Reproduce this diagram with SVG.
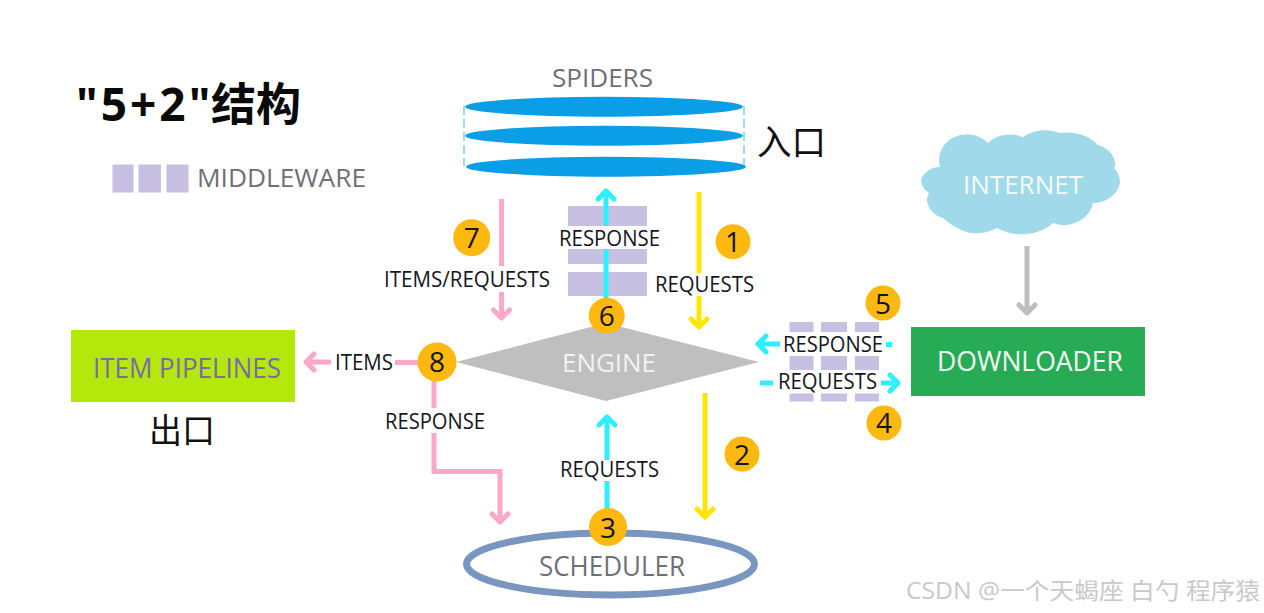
<svg xmlns="http://www.w3.org/2000/svg" width="1264" height="613" viewBox="0 0 1264 613">
<style>
text{font-family:"Open Sans","Noto Sans CJK SC",sans-serif}
.lbl{font-size:21px;fill:#15151c}
.gray{fill:#6f6f78}
.wht{fill:#f4fbf6}
.mw{fill:#c8c0e2}
.blue{fill:#0a9ee6}
.badge{fill:#fdb90f}
.num{font-size:28px;fill:#15151c;text-anchor:middle}
.con{fill:none;stroke-width:5}
.cy{stroke:#2eeeff}.ye{stroke:#ffe600}.pk{stroke:#ffa6c9}.gr{stroke:#bdbdbd}
.head{fill:none;stroke-width:5;stroke-linecap:round;stroke-linejoin:round}
</style>
<defs>
<marker id="hc" markerUnits="userSpaceOnUse" markerWidth="24" markerHeight="24" refX="10" refY="12" orient="auto" overflow="visible"><path class="head cy" d="M6 4L14 12L6 20"/></marker>
<marker id="hy" markerUnits="userSpaceOnUse" markerWidth="24" markerHeight="24" refX="10" refY="12" orient="auto" overflow="visible"><path class="head ye" d="M6 4L14 12L6 20"/></marker>
<marker id="hp" markerUnits="userSpaceOnUse" markerWidth="24" markerHeight="24" refX="10" refY="12" orient="auto" overflow="visible"><path class="head pk" d="M6 4L14 12L6 20"/></marker>
<marker id="hg" markerUnits="userSpaceOnUse" markerWidth="24" markerHeight="24" refX="10" refY="12" orient="auto" overflow="visible"><path class="head gr" d="M6 4L14 12L6 20"/></marker>
</defs>
<rect width="1264" height="613" fill="#fff"/>

<g id="title"><text x="76" y="121" font-size="46" font-weight="700" fill="#0a0a0a"><tspan letter-spacing="3">"5+2"</tspan><tspan x="211" font-size="45">结构</tspan></text></g>

<g id="legend">
<rect class="mw" x="112.500" y="164.500" width="21" height="28"/>
<rect class="mw" x="138.500" y="164.500" width="22.500" height="28"/>
<rect class="mw" x="166.500" y="164.500" width="22" height="28"/>
<text class="gray" x="197" y="187" font-size="26" textLength="169" lengthAdjust="spacingAndGlyphs">MIDDLEWARE</text>
</g>

<g id="spiders">
<text class="gray" x="552" y="87" font-size="25" textLength="101" lengthAdjust="spacingAndGlyphs">SPIDERS</text>
<path d="M464 106V166M744 106V166" fill="none" stroke="#9bdcf2" stroke-width="2" stroke-dasharray="9 4"/>
<ellipse class="blue" cx="604" cy="106.700" rx="139" ry="10"/>
<ellipse class="blue" cx="604" cy="135.700" rx="139" ry="10"/>
<ellipse class="blue" cx="606" cy="166.700" rx="140" ry="10"/>
</g>
<g id="label-entry"><text x="757" y="155" font-size="35" fill="#111" textLength="69" lengthAdjust="spacingAndGlyphs">入口</text></g>

<g id="middleware-spider">
<rect class="mw" x="568" y="206" width="79" height="20"/>
<rect class="mw" x="568" y="249" width="79" height="15"/>
<rect class="mw" x="568" y="272" width="79" height="24"/>
</g>
<g id="middleware-downloader">
<rect class="mw" x="789.500" y="322" width="24" height="10"/><rect class="mw" x="821" y="322" width="26" height="10"/><rect class="mw" x="855" y="322" width="24" height="10"/>
<rect class="mw" x="789.500" y="356" width="24" height="14"/><rect class="mw" x="821" y="356" width="26" height="14"/><rect class="mw" x="855" y="356" width="24" height="14"/>
<rect class="mw" x="789.500" y="393.500" width="24" height="8"/><rect class="mw" x="821" y="393.500" width="26" height="8"/><rect class="mw" x="855" y="393.500" width="24" height="8"/>
</g>

<g id="engine">
<path d="M456 362L606 323L759 362L606 401Z" fill="#bfbfbf"/>
<text x="562" y="372" font-size="25" fill="#f2f2f2" textLength="94" lengthAdjust="spacingAndGlyphs">ENGINE</text>
</g>

<g id="scheduler">
<ellipse cx="610.500" cy="564" rx="144" ry="31" fill="#fff" stroke="#7896c0" stroke-width="7"/>
<text class="gray" x="539" y="576" font-size="27" textLength="146" lengthAdjust="spacingAndGlyphs">SCHEDULER</text>
</g>

<g id="downloader">
<rect x="911" y="327" width="234" height="69" fill="#27ab55"/>
<text class="wht" x="937" y="371" font-size="28" textLength="186" lengthAdjust="spacingAndGlyphs">DOWNLOADER</text>
</g>

<g id="item-pipelines">
<rect x="71" y="330" width="224" height="72" fill="#b4e70c"/>
<text x="93" y="378" font-size="27" fill="#7a6aa8" textLength="188" lengthAdjust="spacingAndGlyphs">ITEM PIPELINES</text>
</g>
<g id="label-exit"><text x="149" y="443" font-size="34" fill="#111" textLength="66" lengthAdjust="spacingAndGlyphs">出口</text></g>

<g id="internet">
<path d="M940 167A28 26 0 0 1 988 143A30 26 0 0 1 1023 137A34 28 0 0 1 1060 133A40 34 0 0 1 1098 145A24 22 0 0 1 1115 162Q1116 165 1114 168A20 20 0 0 1 1120 183A28 24 0 0 1 1093 203A30 26 0 0 1 1063 225Q1058 225 1053 223A38 26 0 0 1 997 228A36 26 0 0 1 970 233Q955 229 943 218A22 20 0 0 1 927 200Q927 196 929 193A18 16 0 0 1 921 180A20 17 0 0 1 940 167Z" fill="#9fd9ea"/>
<text class="wht" x="963" y="194" font-size="25" textLength="120" lengthAdjust="spacingAndGlyphs">INTERNET</text>
</g>

<g id="connectors">
<path class="con cy" marker-end="url(#hc)" d="M606 330V249M606 226V195"/>
<path class="con ye" marker-end="url(#hy)" d="M699 192V273M699 296V323"/>
<path class="con pk" marker-end="url(#hp)" d="M501.500 199V266M501.500 292V314"/>
<path class="con cy" marker-end="url(#hc)" d="M607 510V481M607 460V421"/>
<path class="con ye" marker-end="url(#hy)" d="M705 393V513"/>
<path class="con pk" marker-end="url(#hp)" d="M420 362.500H395M331 362H310"/>
<path class="con pk" marker-end="url(#hp)" d="M434 378V408M434 433V471.500H500V518"/>
<path class="con gr" marker-end="url(#hg)" d="M1027 246V309"/>
<path class="con cy" marker-end="url(#hc)" d="M780 344H762"/>
<path class="con cy" d="M886 344.500H892"/>
<path class="con cy" marker-end="url(#hc)" d="M760 383H773M881 383H894"/>
</g>

<g id="connector-labels">
<text class="lbl" x="559" y="245.500" textLength="101" lengthAdjust="spacingAndGlyphs">RESPONSE</text>
<text class="lbl" x="655" y="291.500" textLength="99" lengthAdjust="spacingAndGlyphs">REQUESTS</text>
<text class="lbl" x="384" y="286.500" textLength="166" lengthAdjust="spacingAndGlyphs">ITEMS/REQUESTS</text>
<text class="lbl" x="783" y="351.500" textLength="100" lengthAdjust="spacingAndGlyphs">RESPONSE</text>
<text class="lbl" x="778" y="388.500" textLength="99" lengthAdjust="spacingAndGlyphs">REQUESTS</text>
<text class="lbl" x="335" y="369.500" textLength="58" lengthAdjust="spacingAndGlyphs">ITEMS</text>
<text class="lbl" x="385" y="428.500" textLength="100" lengthAdjust="spacingAndGlyphs">RESPONSE</text>
<text class="lbl" x="560" y="476.500" textLength="99" lengthAdjust="spacingAndGlyphs">REQUESTS</text>
</g>

<g id="badge-1"><circle class="badge" cx="733" cy="241.700" r="17.500"/><text class="num" x="733" y="252">1</text></g>
<g id="badge-2"><circle class="badge" cx="742" cy="454" r="17.500"/><text class="num" x="742" y="465">2</text></g>
<g id="badge-3"><circle class="badge" cx="608" cy="527" r="19"/><text class="num" x="608" y="538">3</text></g>
<g id="badge-4"><circle class="badge" cx="884" cy="423" r="17.500"/><text class="num" x="884" y="433">4</text></g>
<g id="badge-5"><circle class="badge" cx="883" cy="303" r="17.500"/><text class="num" x="883" y="314">5</text></g>
<g id="badge-6"><circle class="badge" cx="606.700" cy="315.700" r="18"/><text class="num" x="606.700" y="326">6</text></g>
<g id="badge-7"><circle class="badge" cx="471.700" cy="237.700" r="18.500"/><text class="num" x="471.700" y="248">7</text></g>
<g id="badge-8"><circle class="badge" cx="437" cy="362" r="19.500"/><text class="num" x="437" y="372">8</text></g>

<g id="watermark"><text x="906" y="599" font-size="23" fill="#c9c9c9" textLength="354" lengthAdjust="spacingAndGlyphs">CSDN @一个天蝎座 白勺 程序猿</text></g>
</svg>
